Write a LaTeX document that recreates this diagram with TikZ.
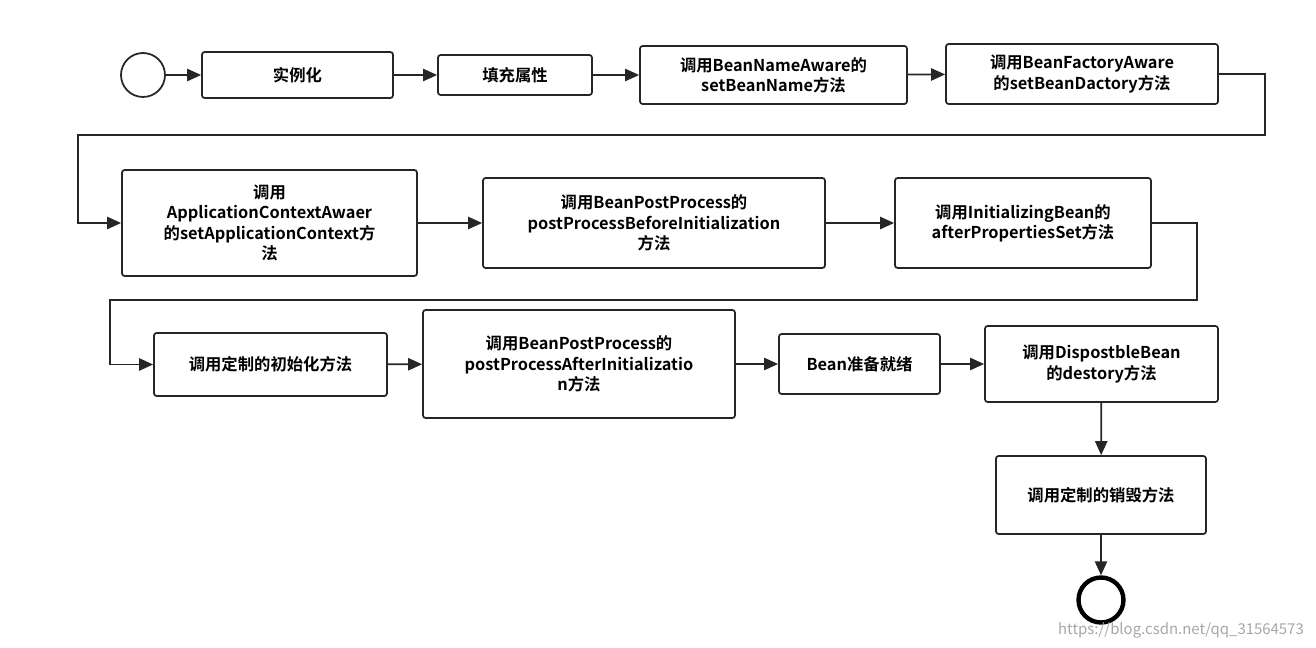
\documentclass[tikz,border=0pt]{standalone}
\usepackage{fontspec}
\setmainfont{Noto Sans CJK SC}[BoldFont={Noto Sans CJK SC Bold}]
\usetikzlibrary{arrows.meta}
\begin{document}
\begin{tikzpicture}[x=0.02cm,y=-0.02cm,
  box/.style={draw=black!85,line width=1pt,rounded corners=1.5pt,align=center,
     font=\fontsize{9.3}{11.5}\selectfont\bfseries,inner sep=0pt},
  arr/.style={line width=1pt,draw=black!85,-{Triangle[length=8pt,width=7pt]}}]
\useasboundingbox (0,0) rectangle (1316,648);
\newcommand{\bx}[6]{\node[box,minimum width={(#4-#2)*0.02cm},minimum height={(#5-#3)*0.02cm}] (#1) at ({(#2+#4)/2},{(#3+#5)/2}) {#6};}
\node[draw=black!85,line width=1pt,circle,minimum size=0.88cm,inner sep=0pt] (s) at (143,75) {};
\bx{b1}{202}{52}{393}{98}{实例化}
\bx{b2}{438}{55}{592}{95}{填充属性}
\bx{b3}{640}{46}{907}{104}{调用BeanNameAware的\\setBeanName方法}
\bx{b4}{946}{44}{1218}{104}{调用BeanFactoryAware\\的setBeanDactory方法}
\bx{b5}{122}{170}{417}{276}{调用\\ApplicationContextAwaer\\的setApplicationContext方\\法}
\bx{b6}{483}{178}{825}{268}{调用BeanPostProcess的\\postProcessBeforeInitialization\\方法}
\bx{b7}{895}{178}{1151}{268}{调用InitializingBean的\\afterPropertiesSet方法}
\bx{b8}{154}{333}{387}{396}{调用定制的初始化方法}
\bx{b9}{423}{310}{735}{418}{调用BeanPostProcess的\\postProcessAfterInitializatio\\n方法}
\bx{b10}{779}{334}{940}{394}{Bean准备就绪}
\bx{b11}{985}{326}{1218}{402}{调用DispostbleBean\\的destory方法}
\bx{b12}{996}{456}{1206}{534}{调用定制的销毁方法}
\node[draw=black,line width=2.5pt,circle,minimum size=0.9cm,inner sep=0pt] (e) at (1101,600) {};
\draw[arr] (s) -- (b1);
\draw[arr] (b1) -- (b2);
\draw[arr] (b2) -- (b3);
\draw[arr] (b3) -- (b4);
\draw[arr] (b4.east) -- (1265,74) -- (1265,135) -- (78,135) |- (b5.west);
\draw[arr] (b5) -- (b6);
\draw[arr] (b6) -- (b7);
\draw[arr] (b7.east) -- (1197,223) -- (1197,300) -- (110,300) |- (b8.west);
\draw[arr] (b8) -- (b9);
\draw[arr] (b9) -- (b10);
\draw[arr] (b10) -- (b11);
\draw[arr] (b11) -- (b12);
\draw[arr] (b12) -- (e);
\node[text=black!35,font=\fontsize{8.5}{10}\selectfont,anchor=east] (w) at (1310,630) {https://blog.csdn.net/qq\_31564573};
\end{tikzpicture}
\end{document}
